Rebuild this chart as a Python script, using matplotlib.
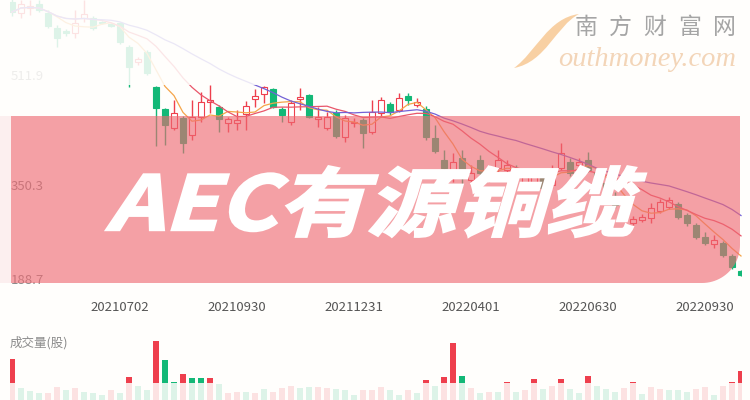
import numpy as np
import pandas as pd
import matplotlib
matplotlib.use("Agg")
import matplotlib.pyplot as plt
from matplotlib.patches import Rectangle, Polygon, PathPatch
from matplotlib.path import Path
from matplotlib.textpath import TextPath
from matplotlib.font_manager import FontProperties
from matplotlib.transforms import Affine2D

plt.rcParams['font.family'] = ['Noto Sans CJK SC', 'DejaVu Sans']

# weekly K-line data (price)
opens = [644.7, 627.1, 635.1, 641.5, 627.1, 603.1, 598.3, 595.1, 619.1, 619.1,
         612.7, 609.5, 611.1, 572.7, 548.7, 564.7, 508.7, 473.5, 443.1, 459.1,
         431.9, 460.7, 484.7, 476.7, 451.1, 451.1, 465.5, 489.5, 497.5, 505.5,
         473.5, 452.7, 489.5, 495.9, 457.5, 443.1, 467.1, 428.7, 451.1, 455.9,
         436.7, 467.1, 481.5, 471.9, 494.3, 479.9, 473.5, 427.1, 391.9, 364.7,
         395.1, 359.9, 391.9, 363.1, 379.1, 375.9, 379.1, 355.1, 356.7, 363.1,
         351.9, 379.1, 388.7, 383.9, 391.9, 372.7, 355.1, 334.3, 323.1, 291.1,
         295.9, 299.1, 310.3, 316.7, 321.5, 303.9, 287.9, 268.7, 257.5, 259.1,
         238.3, 214.3]
closes = [628.7, 641.5, 638.3, 631.9, 606.3, 587.1, 595.1, 611.1, 625.5, 603.1,
          611.1, 606.3, 580.7, 540.7, 553.5, 531.1, 475.1, 447.9, 467.1, 419.1,
          460.7, 484.7, 487.9, 457.5, 457.5, 455.9, 478.3, 494.3, 508.7, 476.7,
          464.3, 483.1, 492.7, 460.7, 460.7, 460.7, 430.3, 459.1, 452.7, 435.1,
          468.7, 487.9, 468.7, 491.1, 487.9, 484.7, 428.7, 406.3, 379.1, 388.7,
          363.1, 371.1, 371.1, 375.9, 391.9, 383.9, 366.3, 364.7, 366.3, 347.1,
          375.9, 403.1, 371.1, 388.7, 375.9, 351.9, 334.3, 319.9, 300.7, 297.5,
          300.7, 315.1, 324.7, 327.9, 300.7, 291.1, 268.7, 259.1, 263.9, 239.9,
          220.7, 207.9]
highs = [655.9, 647.9, 647.9, 647.9, 631.9, 607.9, 601.5, 631.9, 647.9, 622.3,
         614.3, 611.1, 612.7, 575.9, 556.7, 567.9, 510.3, 475.1, 487.9, 462.3,
         487.9, 500.7, 511.9, 479.9, 460.7, 471.9, 486.3, 505.5, 510.3, 507.1,
         476.7, 487.9, 507.1, 497.5, 476.7, 468.7, 471.9, 463.9, 459.1, 459.1,
         487.9, 492.7, 484.7, 499.1, 499.1, 491.1, 478.3, 447.9, 407.9, 403.1,
         407.9, 383.9, 399.9, 383.9, 407.9, 391.9, 383.9, 372.7, 372.7, 367.9,
         383.9, 419.1, 395.1, 395.1, 404.7, 375.9, 359.9, 340.7, 327.9, 302.3,
         305.5, 323.1, 329.5, 332.7, 324.7, 307.1, 291.1, 276.7, 271.9, 262.3,
         241.5, 215.9]
lows = [622.3, 619.1, 623.9, 628.7, 603.1, 572.7, 590.3, 587.1, 612.7, 599.9,
        609.5, 604.7, 577.5, 508.7, 543.9, 527.9, 414.3, 415.9, 439.9, 403.1,
        423.9, 452.7, 467.1, 436.7, 436.7, 439.9, 439.9, 476.7, 483.1, 475.1,
        452.7, 447.9, 471.9, 459.1, 444.7, 439.9, 427.1, 420.7, 444.7, 411.1,
        433.5, 460.7, 463.9, 468.7, 479.9, 476.7, 423.9, 403.1, 372.7, 356.7,
        351.9, 351.9, 363.1, 356.7, 372.7, 369.5, 359.9, 350.3, 350.3, 340.7,
        347.1, 375.9, 366.3, 379.1, 372.7, 343.9, 327.9, 315.1, 297.5, 287.9,
        292.7, 291.1, 307.1, 313.5, 297.5, 286.3, 265.5, 255.9, 251.1, 236.7,
        217.5, 206.3]
volumes = [41, 12, 9, 7, 7, 13, 10, 12, 8, 7,
           5, 10, 7, 23, 14, 10, 59, 40, 18, 26,
           22, 22, 22, 16, 7, 8, 8, 7, 11, 8,
           12, 14, 12, 13, 13, 12, 11, 10, 5, 10,
           10, 13, 10, 5, 10, 7, 20, 14, 23, 57,
           24, 12, 7, 8, 8, 18, 8, 10, 21, 11,
           14, 21, 11, 7, 24, 14, 11, 8, 12, 18,
           6, 13, 11, 10, 10, 8, 11, 13, 5, 14,
           18, 29]
vol_colors = ("rgggrrgrgg" "grgrggrggr" "ggrgrrgrgr" "rrggrrgggr" "rrggrgrgrr"
              "grgrgrgrrg" "rrggrgggrr" "grrgggrrgr" "rr")

date_idx = [12, 25, 38, 51, 64, 77]
date_labels = ['20210702', '20210930', '20211231', '20220401', '20220630', '20220930']
price_labels = ['511.9', '350.3', '188.7']
title = 'AEC有源铜缆'

RED = '#ee3f4d'
GREEN = '#13b877'
BG = '#fffefc'
W, H = 750, 400

fig = plt.figure(figsize=(7.5, 4), dpi=100)
fig.patch.set_facecolor(BG)


def px_axes(x0, y0, x1, y1, **kw):
    ax = fig.add_axes([x0 / W, 1 - y1 / H, (x1 - x0) / W, (y1 - y0) / H], **kw)
    ax.axis('off')
    ax.patch.set_alpha(0)
    return ax


idx = np.arange(len(closes))
o, c, h, l = map(np.array, (opens, closes, highs, lows))
up = c >= o
cols = np.where(up, RED, GREEN)

# price panel
ax = px_axes(10, 0, 742, 283)
ax.set_xlim(-0.22, 81.11)
ax.set_ylim(195.1, 647.9)
ax.vlines(idx, l, h, colors=cols, lw=1, zorder=2)
body = np.maximum(np.abs(c - o), 0.9)
ax.bar(idx, body, bottom=np.minimum(o, c), width=0.62,
       color=np.where(up, 'white', GREEN), edgecolor=cols, linewidth=0.8, zorder=3)

s = pd.Series(closes)
ax.plot(idx, s.rolling(5, min_periods=1).mean(), color='#f5a54a', lw=0.9, zorder=4)
ax.plot(idx, s.rolling(10, min_periods=1).mean(), color='#e9566a', lw=0.9, zorder=4)
ax.plot(idx, s.rolling(20, min_periods=1).mean(), color='#7462d6', lw=0.9, zorder=4)

for i, lab in zip(date_idx, date_labels):
    ax.text(i, -0.085, lab, transform=ax.get_xaxis_transform(), ha='center',
            va='center', fontsize=9.5, color='#555555', clip_on=False)

# volume panel
axv = px_axes(10, 330, 742, 400)
axv.set_xlim(-0.22, 81.11)
axv.set_ylim(0, 70)
axv.bar(idx, volumes, width=0.65,
        color=[RED if k == 'r' else GREEN for k in vol_colors])

# overlay: fades, band, title, watermark
ov = px_axes(0, 0, W, H, zorder=10)
ov.set_xlim(0, W)
ov.set_ylim(H, 0)

for lab, yy in zip(price_labels, [77, 186, 280]):
    ov.text(11, yy, lab, fontsize=9.5, color='#8a8a8a', va='center', zorder=1)

ov.add_patch(Rectangle((0, 0), W, 85, fc=BG, ec='none', alpha=0.86, zorder=2))
ov.add_patch(Rectangle((0, 383), W, 17, fc=BG, ec='none', alpha=0.86, zorder=2))
ov.add_patch(Rectangle((0, 116), 11, 167, fc='#fcefef', ec='none', zorder=2))

r = 38
bx0, by0, bx1, by1 = 11, 116, 740, 283
th = np.linspace(0, np.pi / 2, 24)
arc = np.column_stack([bx1 - r + r * np.cos(th), by1 - r + r * np.sin(th)])
verts = np.vstack([[(bx0, by0), (bx1, by0)], arc, [(bx0, by1)]])
ov.add_patch(Polygon(verts, closed=True, fc='#ee6972', ec='none', alpha=0.63, zorder=3))

ov.text(10, 343, '成交量(股)', fontsize=9, color='#8c8c8c', va='center', zorder=3)

# big slanted title
fp = FontProperties(family='Noto Sans CJK SC', weight='heavy')
tp = Affine2D().skew_deg(14, 0).transform_path(TextPath((0, 0), title, size=100, prop=fp))
ext = tp.get_extents()
tr = (Affine2D().translate(-ext.x0, -ext.y0)
      .scale((646 - 106) / ext.width, -(237 - 166) / ext.height)
      .translate(106, 237))
ov.add_patch(PathPatch(tr.transform_path(tp), fc='white', ec='white', lw=1.6,
                       joinstyle='miter', zorder=5))

# watermark
swoosh = [(579, 14), (548, 18), (536, 52), (514, 68), (546, 62), (556, 26), (579, 14)]
codes = [Path.MOVETO, Path.CURVE4, Path.CURVE4, Path.CURVE4,
         Path.CURVE4, Path.CURVE4, Path.CURVE4]
ov.add_patch(PathPatch(Path(swoosh, codes), fc='#f7c894', ec='none', alpha=0.85, zorder=6))
for k, ch in enumerate('南方财富网'):
    ov.text(586 + 34.5 * k, 27, ch, fontsize=16.5, color='#a5a5a5',
            ha='center', va='center', zorder=6)
ov.text(558, 66, 'outhmoney.com', family='Liberation Serif', style='italic',
        fontsize=20.5, color='#f3d5b8', va='baseline', zorder=6)

fig.savefig('out.png', dpi=100, facecolor=BG)
